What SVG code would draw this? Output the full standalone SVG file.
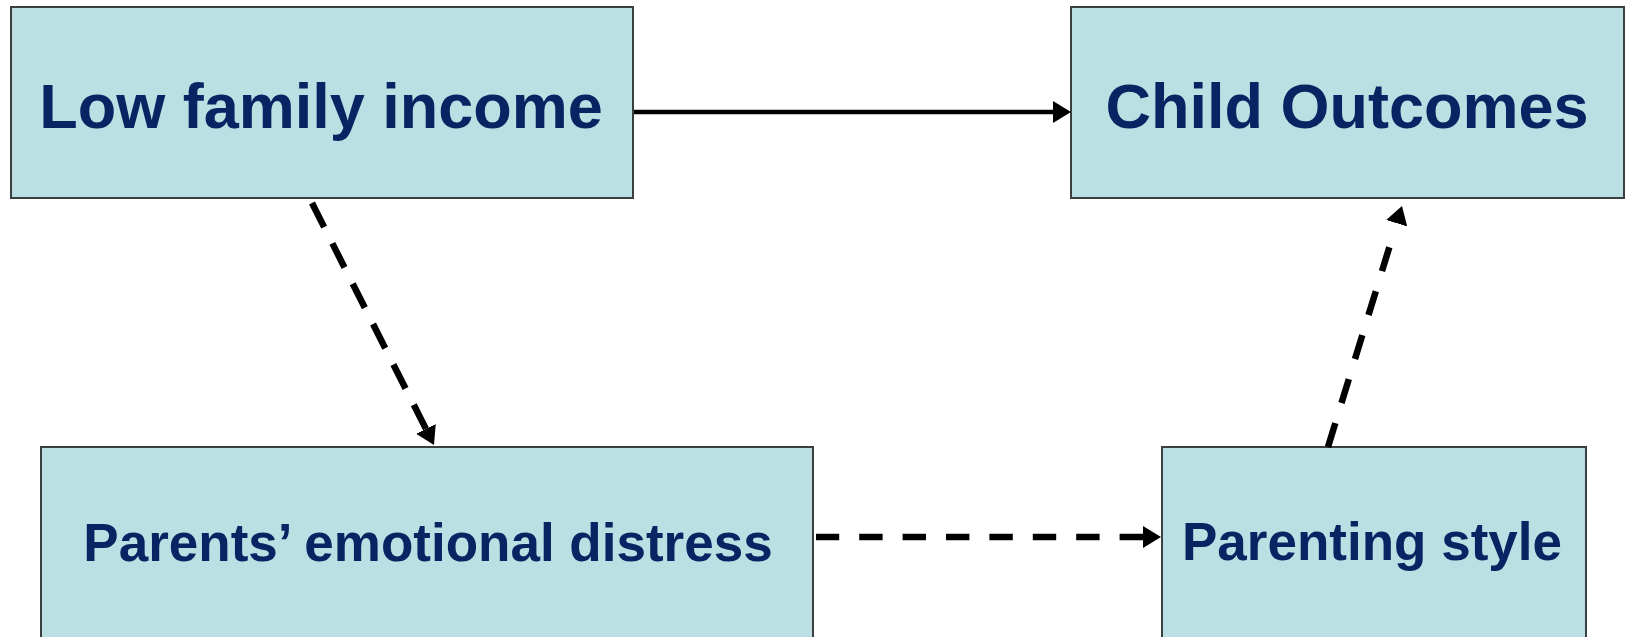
<svg xmlns="http://www.w3.org/2000/svg" width="1629" height="637" viewBox="0 0 1629 637">
<style>
.box{fill:#BBE0E3;stroke:#3a4042;stroke-width:2}
.lbl{font-family:"Liberation Sans",Arial,sans-serif;font-weight:bold;fill:#0a2463;text-anchor:middle}
.big{font-size:63px}
.small{font-size:53px}
.solid{stroke:#000;stroke-width:4.5;fill:none}
.dash{stroke:#000;stroke-width:6.5;fill:none}
</style>
<defs>
<marker id="ah" viewBox="0 0 18 22" refX="0" refY="11" markerWidth="18" markerHeight="22" markerUnits="userSpaceOnUse" orient="auto-start-reverse">
<path d="M0,0 L18,11 L0,22 z" fill="#000"/>
</marker>
</defs>
<rect width="1629" height="637" fill="#fff"/>
<g id="node-low-income">
<rect class="box" x="11" y="7" width="622" height="191"/>
<text class="lbl big" x="321" y="128">Low family income</text>
</g>
<g id="node-child-outcomes">
<rect class="box" x="1071" y="7" width="553" height="191"/>
<text class="lbl big" x="1347" y="128">Child Outcomes</text>
</g>
<g id="node-parents-distress">
<rect class="box" x="41" y="447" width="772" height="200"/>
<text class="lbl small" x="428" y="561">Parents’ emotional distress</text>
</g>
<g id="node-parenting-style">
<rect class="box" x="1162" y="447" width="424" height="200"/>
<text class="lbl small" x="1372" y="560">Parenting style</text>
</g>
<g id="connectors">
<path class="solid" d="M1053,112 L634,112" marker-start="url(#ah)"/>
<path class="dash" d="M425.9,428.9 L312,203" marker-start="url(#ah)" stroke-dasharray="27 18.2"/>
<path class="dash" d="M1143,537 L816,537" marker-start="url(#ah)" stroke-dasharray="23.4 20"/>
<path class="dash" d="M1328,447 L1396.7,223.2" marker-end="url(#ah)" stroke-dasharray="25 21 25 21 25 21 25 21 25 60"/>
</g>
</svg>
